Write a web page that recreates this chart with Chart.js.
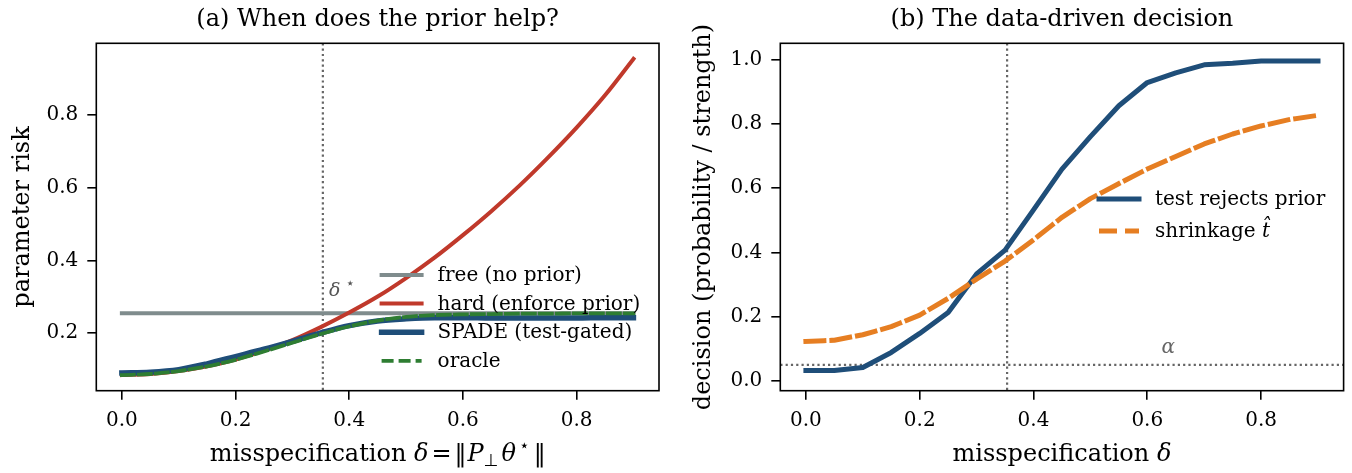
<!DOCTYPE html>
<html>
<head>
<meta charset="utf-8">
<script src="https://cdn.jsdelivr.net/npm/chart.js@4.4.0/dist/chart.umd.min.js"></script>
<style>
  body { margin: 0; background: #fff; }
  .panel { position: absolute; top: 0; width: 676px; height: 473px; }
</style>
</head>
<body>
<div class="panel" style="left:0"><canvas id="chartA" width="676" height="473"></canvas></div>
<div class="panel" style="left:676px"><canvas id="chartB" width="676" height="473"></canvas></div>
<script>
// misspecification grid (x values for every series)
const delta = [0, 0.05, 0.1, 0.15, 0.2, 0.25, 0.3, 0.35, 0.4, 0.45, 0.5, 0.55, 0.6, 0.65, 0.7, 0.75, 0.8, 0.85, 0.9];

// panel (a): parameter risk
const riskFree   = [0.255, 0.255, 0.255, 0.255, 0.255, 0.255, 0.255, 0.255, 0.255, 0.255, 0.255, 0.255, 0.255, 0.255, 0.255, 0.255, 0.255, 0.255, 0.255];
const riskHard   = [0.085, 0.088, 0.096, 0.109, 0.128, 0.152, 0.181, 0.217, 0.257, 0.301, 0.352, 0.408, 0.470, 0.536, 0.607, 0.684, 0.766, 0.855, 0.955];
const riskSpade  = [0.091, 0.093, 0.100, 0.116, 0.136, 0.156, 0.178, 0.201, 0.221, 0.234, 0.240, 0.243, 0.243, 0.242, 0.242, 0.242, 0.242, 0.243, 0.243];
const riskOracle = [0.085, 0.088, 0.096, 0.109, 0.127, 0.150, 0.174, 0.198, 0.219, 0.235, 0.245, 0.250, 0.252, 0.253, 0.254, 0.254, 0.255, 0.255, 0.255];

// panel (b): decision
const rejectProb = [0.033, 0.033, 0.042, 0.089, 0.148, 0.213, 0.333, 0.407, 0.532, 0.659, 0.760, 0.856, 0.928, 0.958, 0.983, 0.988, 0.995, 0.995, 0.995];
const shrinkT    = [0.123, 0.127, 0.144, 0.169, 0.205, 0.257, 0.317, 0.373, 0.439, 0.509, 0.567, 0.614, 0.659, 0.698, 0.737, 0.768, 0.793, 0.813, 0.826];

const deltaStar = 0.3536;
const alphaLevel = 0.05;

const xTicks = [0, 0.2, 0.4, 0.6, 0.8];
const yTicksA = [0.2, 0.4, 0.6, 0.8];
const yTicksB = [0, 0.2, 0.4, 0.6, 0.8, 1.0];

const SERIF = '"DejaVu Serif", "DejaVu Sans", serif';
const SANS = '"DejaVu Sans", sans-serif';
const GRAY = '#7f8c8d', RED = '#c0392b', BLUE = '#1f4e79', GREEN = '#2e7d32', ORANGE = '#e67e22';

function pts(ys) {
  return ys.map((y, i) => ({ x: delta[i], y: y }));
}

function drawRich(ctx, parts, x, y, align) {
  let total = 0;
  parts.forEach(p => {
    ctx.font = p.font;
    p.w = ctx.measureText(p.t).width;
    total += p.w + (p.gap || 0);
  });
  let cx = align === 'center' ? x - total / 2 : x;
  parts.forEach(p => {
    ctx.font = p.font;
    ctx.fillText(p.t, cx, y + (p.dy || 0));
    cx += p.w + (p.gap || 0);
  });
}

function axis(min, max, ticks, fitSize, title) {
  return {
    type: 'linear', min: min, max: max,
    afterBuildTicks: s => { s.ticks = ticks.map(v => ({ value: v })); },
    afterFit: s => { if (s.isHorizontal()) s.height = fitSize; else s.width = fitSize; },
    grid: { drawOnChartArea: false, drawTicks: true, tickLength: 9, color: '#000', lineWidth: 1.6, tickWidth: 1.6, tickColor: '#000' },
    border: { display: false },
    ticks: { color: '#000', font: { family: SERIF, size: 20 }, padding: 9, maxRotation: 0, autoSkip: false,
             callback: v => v.toFixed(1) },
    title: title || { display: false }
  };
}

// frame, reference lines, notes, legend and the math x label
const decor = {
  id: 'decor',
  beforeDatasetsDraw(chart, args, o) {
    const { ctx, chartArea: a, scales: { x, y } } = chart;
    ctx.save();
    ctx.beginPath();
    ctx.rect(a.left, a.top, a.width, a.height);
    ctx.clip();
    ctx.strokeStyle = '#666';
    ctx.lineWidth = 2.2;
    ctx.setLineDash([2.2, 3.1]);
    (o.vlines || []).forEach(v => {
      const px = x.getPixelForValue(v);
      ctx.beginPath(); ctx.moveTo(px, a.top); ctx.lineTo(px, a.bottom); ctx.stroke();
    });
    (o.hlines || []).forEach(v => {
      const py = y.getPixelForValue(v);
      ctx.beginPath(); ctx.moveTo(a.left, py); ctx.lineTo(a.right, py); ctx.stroke();
    });
    ctx.restore();
  },
  afterDatasetsDraw(chart, args, o) {
    const { ctx, scales: { x, y } } = chart;
    ctx.save();
    ctx.textBaseline = 'alphabetic';
    (o.notes || []).forEach(n => {
      ctx.fillStyle = n.color;
      drawRich(ctx, n.parts, x.getPixelForValue(n.x), y.getPixelForValue(n.y), 'left');
    });
    // legend
    const L = o.legend;
    L.items.forEach((it, i) => {
      const ry = L.y + L.rows[i];
      ctx.strokeStyle = it.color;
      ctx.lineWidth = it.width;
      ctx.lineCap = it.dash ? 'butt' : 'square';
      ctx.setLineDash(it.dash || []);
      ctx.beginPath(); ctx.moveTo(L.x, ry); ctx.lineTo(L.x + 40, ry); ctx.stroke();
      ctx.setLineDash([]);
      ctx.fillStyle = '#000';
      ctx.textBaseline = 'middle';
      drawRich(ctx, it.label, L.x + 56, ry + 1, 'left');
    });
    ctx.restore();
  },
  afterDraw(chart, args, o) {
    const { ctx, chartArea: a } = chart;
    ctx.save();
    ctx.strokeStyle = '#000';
    ctx.lineWidth = 1.6;
    ctx.strokeRect(a.left, a.top, a.width, a.height);
    ctx.fillStyle = '#000';
    ctx.textBaseline = 'alphabetic';
    drawRich(ctx, o.xlabel, (a.left + a.right) / 2, 461, 'center');
    ctx.restore();
  }
};

const N24 = '24px ' + SERIF, I24 = 'italic 24px ' + SERIF, N20 = '20px ' + SERIF;

new Chart(document.getElementById('chartA'), {
  type: 'line',
  data: {
    datasets: [
      { label: 'free (no prior)', data: pts(riskFree), borderColor: GRAY, borderWidth: 4, order: 4 },
      { label: 'hard (enforce prior)', data: pts(riskHard), borderColor: RED, borderWidth: 4, order: 3 },
      { label: 'SPADE (test-gated)', data: pts(riskSpade), borderColor: BLUE, borderWidth: 5.5, order: 2 },
      { label: 'oracle', data: pts(riskOracle), borderColor: GREEN, borderWidth: 3.8, borderDash: [12, 5], order: 1 }
    ]
  },
  options: {
    responsive: false, animation: false, devicePixelRatio: 1,
    layout: { padding: { left: 0, right: 17, top: 0, bottom: 0 } },
    elements: { point: { radius: 0 }, line: { cubicInterpolationMode: 'monotone', borderJoinStyle: 'round', borderCapStyle: 'square' } },
    scales: {
      x: axis(-0.045, 0.945, xTicks, 82.3),
      y: axis(0.042, 0.998, yTicksA, 96.3,
        { display: true, text: 'parameter risk', color: '#000', font: { family: SERIF, size: 24 }, padding: { top: 8, bottom: 0 } })
    },
    plugins: {
      legend: { display: false },
      tooltip: { enabled: false },
      title: { display: true, text: '(a) When does the prior help?', color: '#000', fullSize: false,
               font: { family: SERIF, size: 24, weight: 'normal' }, padding: { top: 5, bottom: 9.5 } },
      decor: {
        vlines: [deltaStar],
        notes: [{ x: deltaStar + 0.011, y: 0.303, color: '#555',
                  parts: [{ t: 'δ', font: 'italic 19px ' + SERIF, gap: 5 }, { t: '⋆', font: '15px ' + SANS, dy: -8 }] }],
        legend: {
          x: 381.6, y: 275, rows: [0, 28.6, 57.2, 85.8],
          items: [
            { color: GRAY, width: 4, label: [{ t: 'free (no prior)', font: N20 }] },
            { color: RED, width: 4, label: [{ t: 'hard (enforce prior)', font: N20 }] },
            { color: BLUE, width: 5.5, label: [{ t: 'SPADE (test-gated)', font: N20 }] },
            { color: GREEN, width: 3.8, dash: [12, 5], label: [{ t: 'oracle', font: N20 }] }
          ]
        },
        xlabel: [
          { t: 'misspecification ', font: N24 },
          { t: 'δ', font: I24, gap: 3 },
          { t: '=', font: N24, gap: 3 },
          { t: '‖', font: N24, gap: 1 },
          { t: 'P', font: I24 },
          { t: '⊥', font: '17px ' + SANS, dy: 5, gap: 3 },
          { t: 'θ', font: I24, gap: 3 },
          { t: '⋆', font: '17px ' + SANS, dy: -10, gap: 4 },
          { t: '‖', font: N24 }
        ]
      }
    }
  },
  plugins: [decor]
});

new Chart(document.getElementById('chartB'), {
  type: 'line',
  data: {
    datasets: [
      { label: 'test rejects prior', data: pts(rejectProb), borderColor: BLUE, borderWidth: 5, order: 2 },
      { label: 'shrinkage t̂', data: pts(shrinkT), borderColor: ORANGE, borderWidth: 5, borderDash: [18, 8], order: 1 }
    ]
  },
  options: {
    responsive: false, animation: false, devicePixelRatio: 1,
    layout: { padding: { left: 0, right: 8.4, top: 0, bottom: 0 } },
    elements: { point: { radius: 0 }, line: { tension: 0, borderJoinStyle: 'round', borderCapStyle: 'square' } },
    scales: {
      x: axis(-0.045, 0.945, xTicks, 82.3),
      y: axis(-0.03, 1.05, yTicksB, 104.3,
        { display: true, text: 'decision (probability / strength)', color: '#000', font: { family: SERIF, size: 24 }, padding: { top: 13, bottom: 0 } })
    },
    plugins: {
      legend: { display: false },
      tooltip: { enabled: false },
      title: { display: true, text: '(b) The data-driven decision', color: '#000', fullSize: false,
               font: { family: SERIF, size: 24, weight: 'normal' }, padding: { top: 5, bottom: 9.5 } },
      decor: {
        vlines: [deltaStar],
        hlines: [alphaLevel],
        notes: [{ x: 0.625, y: 0.087, color: '#666', parts: [{ t: 'α', font: 'italic 20px ' + SERIF }] }],
        legend: {
          x: 423, y: 199, rows: [0, 32],
          items: [
            { color: BLUE, width: 5, label: [{ t: 'test rejects prior', font: N20 }] },
            { color: ORANGE, width: 5, dash: [18, 8], label: [{ t: 'shrinkage ', font: N20 }, { t: 't̂', font: 'italic 20px ' + SERIF }] }
          ]
        },
        xlabel: [
          { t: 'misspecification ', font: N24 },
          { t: 'δ', font: I24 }
        ]
      }
    }
  },
  plugins: [decor]
});
</script>
</body>
</html>
